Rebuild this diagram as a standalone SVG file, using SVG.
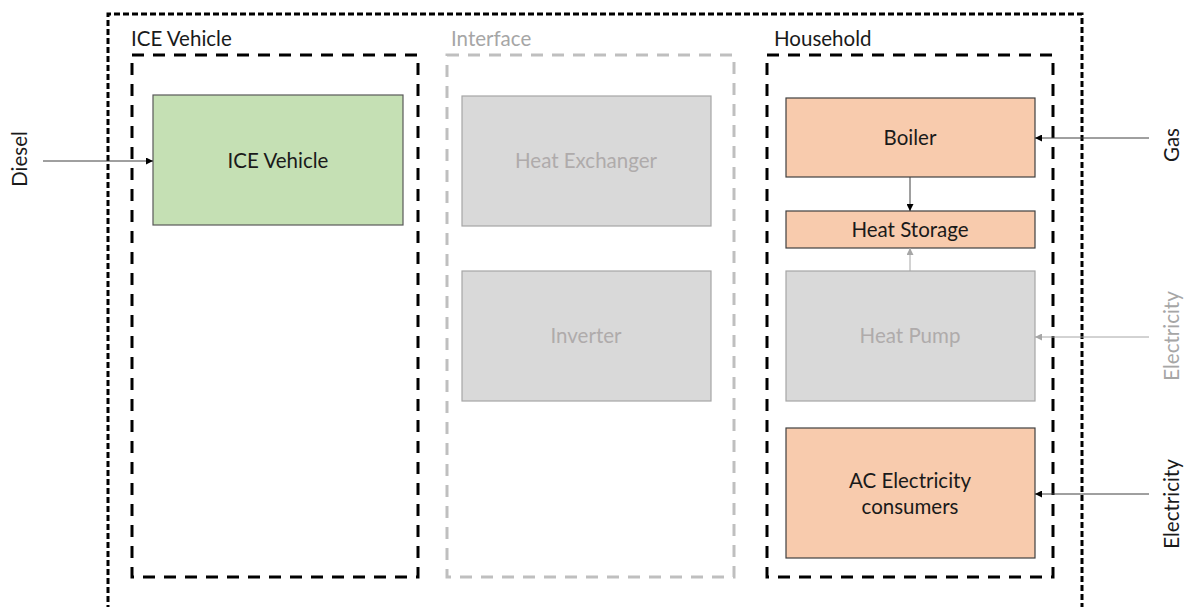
<svg xmlns="http://www.w3.org/2000/svg" width="1184" height="607" viewBox="0 0 1184 607">
<style>
  text { font-family: Lato, "Open Sans", "Liberation Sans", sans-serif; font-size: 20.5px; }
  .lbl { fill: #1a1a1a; }
  .glbl { fill: #a6a6a6; }
  .outer { fill: none; stroke: #000; stroke-width: 3; stroke-dasharray: 6 3; }
  .cont { fill: none; stroke: #000; stroke-width: 3; stroke-dasharray: 12 9; }
  .gcont { fill: none; stroke: #bfbfbf; stroke-width: 3; stroke-dasharray: 12 9; }
  .green { fill: #c5e0b4; stroke: #595959; stroke-width: 1.2; }
  .orange { fill: #f8cbad; stroke: #404040; stroke-width: 1.2; }
  .gray { fill: #d9d9d9; stroke: #a6a6a6; stroke-width: 1.2; }
  .c { text-anchor: middle; }
  .ntext { fill: #1a1a1a; }
  .gtext { fill: #afabab; }
  .edge { stroke: #404040; stroke-width: 1; fill: none; marker-end: url(#ah); }
  .gedge { stroke: #a6a6a6; stroke-width: 1; fill: none; marker-end: url(#gah); }
</style>
<defs>
  <marker id="ah" viewBox="0 0 10 10" refX="10" refY="5" markerWidth="7" markerHeight="7" markerUnits="userSpaceOnUse" orient="auto">
    <path d="M0,0 L10,5 L0,10 z" fill="#000"/>
  </marker>
  <marker id="gah" viewBox="0 0 10 10" refX="10" refY="5" markerWidth="7" markerHeight="7" markerUnits="userSpaceOnUse" orient="auto">
    <path d="M0,0 L10,5 L0,10 z" fill="#a6a6a6"/>
  </marker>
</defs>
<rect width="1184" height="607" fill="#fff"/>

<g id="outer">
  <path class="outer" d="M108,620 L108,14 L1082,14 L1082,620"/>
</g>

<g id="ice-container">
  <rect class="cont" x="132" y="55" width="286" height="522"/>
  <text class="lbl" x="131" y="46">ICE Vehicle</text>
</g>
<g id="interface-container">
  <rect class="gcont" x="447" y="55" width="287" height="522"/>
  <text class="glbl" x="451" y="46">Interface</text>
</g>
<g id="household-container">
  <rect class="cont" x="767" y="55" width="286" height="522"/>
  <text class="lbl" x="774" y="46">Household</text>
</g>

<g id="ice-vehicle">
  <rect class="green" x="153" y="95" width="250" height="130"/>
  <text class="ntext c" x="278" y="168">ICE Vehicle</text>
</g>
<g id="heat-exchanger">
  <rect class="gray" x="462" y="96" width="249" height="130"/>
  <text class="gtext c" x="586" y="168">Heat Exchanger</text>
</g>
<g id="inverter">
  <rect class="gray" x="462" y="271" width="249" height="130"/>
  <text class="gtext c" x="586" y="343">Inverter</text>
</g>
<g id="boiler">
  <rect class="orange" x="786" y="98" width="249" height="79"/>
  <text class="ntext c" x="910" y="145">Boiler</text>
</g>
<g id="heat-storage">
  <rect class="orange" x="786" y="211" width="249" height="37"/>
  <text class="ntext c" x="910" y="237">Heat Storage</text>
</g>
<g id="heat-pump">
  <rect class="gray" x="786" y="271" width="249" height="130"/>
  <text class="gtext c" x="910" y="343">Heat Pump</text>
</g>
<g id="ac-consumers">
  <rect class="orange" x="786" y="428" width="249" height="130"/>
  <text class="ntext c" x="910" y="488">AC Electricity</text>
  <text class="ntext c" x="910" y="514">consumers</text>
</g>

<g id="sources">
  <text class="lbl c" transform="translate(27,159) rotate(-90)">Diesel</text>
  <text class="lbl c" transform="translate(1179,145) rotate(-90)">Gas</text>
  <text class="glbl c" transform="translate(1179,336) rotate(-90)">Electricity</text>
  <text class="lbl c" transform="translate(1179,504) rotate(-90)">Electricity</text>
</g>

<g id="connectors">
  <line class="edge" x1="43" y1="161" x2="153" y2="161"/>
  <line class="edge" x1="1149" y1="138" x2="1035" y2="138"/>
  <line class="edge" x1="910" y1="177" x2="910" y2="211"/>
  <line class="gedge" x1="910" y1="271" x2="910" y2="248"/>
  <line class="gedge" x1="1149" y1="337" x2="1035" y2="337"/>
  <line class="edge" x1="1149" y1="494" x2="1035" y2="494"/>
</g>
</svg>
